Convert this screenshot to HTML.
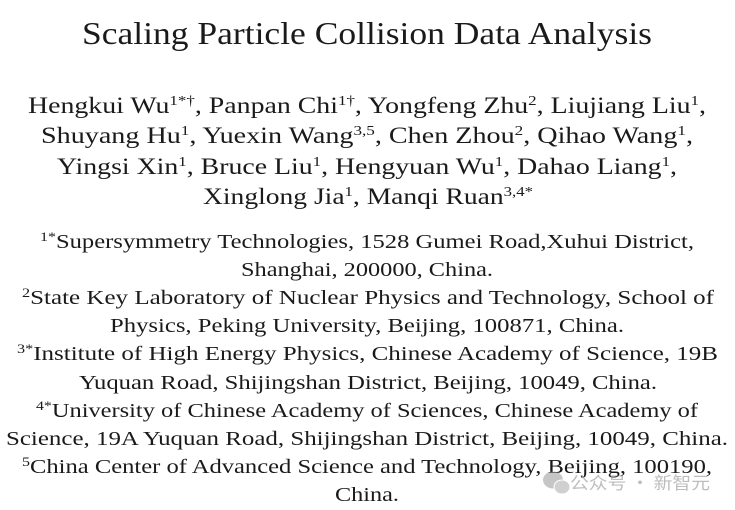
<!DOCTYPE html>
<html><head><meta charset="utf-8"><style>
html,body{margin:0;padding:0;background:#fff;}
svg{display:block;}
text{font-family:"Liberation Serif",serif;fill:#1a1a1a;}
</style></head><body>
<svg width="735" height="510" viewBox="0 0 735 510">
<text x="82" y="44" font-size="32" textLength="570" lengthAdjust="spacingAndGlyphs">Scaling Particle Collision Data Analysis</text>

<g font-size="23">
<text x="28" y="113" textLength="678" lengthAdjust="spacingAndGlyphs">Hengkui Wu<tspan dy="-8" font-size="14">1*†</tspan><tspan dy="8">,  Panpan Chi</tspan><tspan dy="-8" font-size="14">1†</tspan><tspan dy="8">,  Yongfeng Zhu</tspan><tspan dy="-8" font-size="14">2</tspan><tspan dy="8">,  Liujiang Liu</tspan><tspan dy="-8" font-size="14">1</tspan><tspan dy="8">,</tspan></text>
<text x="41" y="143" textLength="652" lengthAdjust="spacingAndGlyphs">Shuyang Hu<tspan dy="-8" font-size="14">1</tspan><tspan dy="8">,  Yuexin Wang</tspan><tspan dy="-8" font-size="14">3,5</tspan><tspan dy="8">,  Chen Zhou</tspan><tspan dy="-8" font-size="14">2</tspan><tspan dy="8">,  Qihao Wang</tspan><tspan dy="-8" font-size="14">1</tspan><tspan dy="8">,</tspan></text>
<text x="57" y="174" textLength="620" lengthAdjust="spacingAndGlyphs">Yingsi Xin<tspan dy="-8" font-size="14">1</tspan><tspan dy="8">,  Bruce Liu</tspan><tspan dy="-8" font-size="14">1</tspan><tspan dy="8">,  Hengyuan Wu</tspan><tspan dy="-8" font-size="14">1</tspan><tspan dy="8">,  Dahao Liang</tspan><tspan dy="-8" font-size="14">1</tspan><tspan dy="8">,</tspan></text>
<text x="203" y="204" textLength="330" lengthAdjust="spacingAndGlyphs">Xinglong Jia<tspan dy="-8" font-size="14">1</tspan><tspan dy="8">,  Manqi Ruan</tspan><tspan dy="-8" font-size="14">3,4*</tspan></text>
</g>

<g font-size="20">
<text x="40" y="248" textLength="654" lengthAdjust="spacingAndGlyphs"><tspan dy="-7" font-size="13">1*</tspan><tspan dy="7">Supersymmetry Technologies, 1528 Gumei Road,Xuhui District,</tspan></text>
<text x="241" y="276" textLength="252" lengthAdjust="spacingAndGlyphs">Shanghai, 200000, China.</text>
<text x="22" y="304" textLength="692" lengthAdjust="spacingAndGlyphs"><tspan dy="-7" font-size="13">2</tspan><tspan dy="7">State Key Laboratory of Nuclear Physics and Technology,  School of</tspan></text>
<text x="110" y="332" textLength="514" lengthAdjust="spacingAndGlyphs">Physics, Peking University,  Beijing, 100871, China.</text>
<text x="17" y="360" textLength="701" lengthAdjust="spacingAndGlyphs"><tspan dy="-7" font-size="13">3*</tspan><tspan dy="7">Institute of High Energy Physics, Chinese Academy of Science,  19B</tspan></text>
<text x="79" y="389" textLength="578" lengthAdjust="spacingAndGlyphs">Yuquan Road, Shijingshan District, Beijing, 10049, China.</text>
<text x="36" y="417" textLength="662" lengthAdjust="spacingAndGlyphs"><tspan dy="-7" font-size="13">4*</tspan><tspan dy="7">University of Chinese Academy of Sciences, Chinese Academy of</tspan></text>
<text x="6" y="445" textLength="722" lengthAdjust="spacingAndGlyphs">Science,  19A Yuquan Road, Shijingshan District, Beijing, 10049, China.</text>
<text x="22" y="473" textLength="690" lengthAdjust="spacingAndGlyphs"><tspan dy="-7" font-size="13">5</tspan><tspan dy="7">China Center of Advanced Science and Technology, Beijing, 100190,</tspan></text>
<text x="335" y="501" textLength="64" lengthAdjust="spacingAndGlyphs">China.</text>
</g>

<g opacity="0.55">
<ellipse cx="553" cy="480" rx="10" ry="8.5" fill="#999"/>
<ellipse cx="562" cy="487" rx="8" ry="7" fill="#aaa" stroke="#fff" stroke-width="1"/>
<text x="570" y="489" font-size="17" textLength="140" lengthAdjust="spacingAndGlyphs" style="font-family:'Noto Sans CJK SC',sans-serif;fill:#888">公众号 · 新智元</text>
</g>
</svg>
</body></html>
